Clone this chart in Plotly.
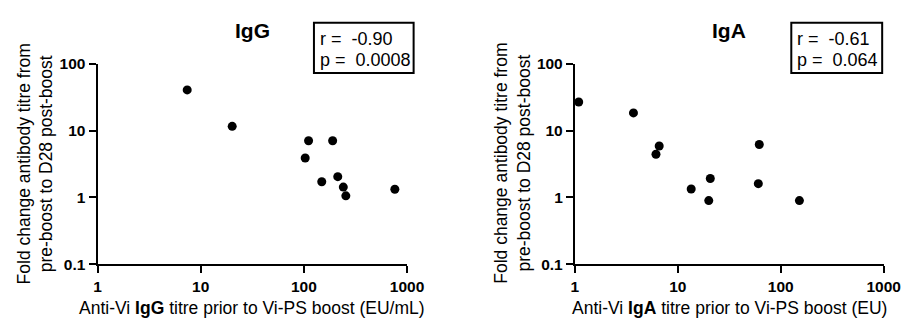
import plotly.graph_objects as go

# ---- data ----
igg_titre = [7.4, 20.2, 111, 190, 103, 149, 213, 241, 255, 761]
igg_fold = [40.6, 11.6, 7.06, 7.06, 3.89, 1.72, 2.05, 1.43, 1.06, 1.33]

iga_titre = [1.09, 3.71, 6.6, 6.14, 13.5, 20.7, 20.0, 61.9, 60.6, 152]
iga_fold = [26.8, 18.4, 5.88, 4.43, 1.34, 1.92, 0.90, 6.2, 1.61, 0.90]

x_tickvals = [1, 10, 100, 1000]
x_ticktext = ["1", "10", "100", "1000"]
y_tickvals = [0.1, 1, 10, 100]
y_ticktext = ["0.1", "1", "10", "100"]

panel_titles = ["IgG", "IgA"]
x_titles = ["Anti-Vi <b>IgG</b> titre prior to Vi-PS boost (EU/mL)",
            "Anti-Vi <b>IgA</b> titre prior to Vi-PS boost (EU)"]
y_title = "Fold change antibody titre from<br>pre-boost to D28 post-boost"
r_texts = ["r =\u00a0\u00a0-0.90", "r =\u00a0\u00a0-0.61"]
p_texts = ["p =\u00a0\u00a00.0008", "p =\u00a0\u00a00.064"]

# ---- layout geometry (window pixels; page body has an 8px margin) ----
W, H = 920, 326
OFF = 8
FONT = "Arial, Liberation Sans, sans-serif"
px = lambda v: (v - OFF) / W
py = lambda v: 1 - (v - OFF) / H

x_dom = [(95.5, 412.3), (584, 900)]
y_dom = (py(269), py(57.3))

fig = go.Figure()
fig.add_trace(go.Scatter(x=igg_titre, y=igg_fold, mode="markers",
                         marker=dict(size=9, color="black"),
                         xaxis="x", yaxis="y", cliponaxis=False, showlegend=False))
fig.add_trace(go.Scatter(x=iga_titre, y=iga_fold, mode="markers",
                         marker=dict(size=9, color="black"),
                         xaxis="x2", yaxis="y2", cliponaxis=False, showlegend=False))

axis_common = dict(type="log", showgrid=False, zeroline=False, showline=True,
                   linecolor="black", linewidth=2, ticks="outside", ticklen=7,
                   tickwidth=2, tickcolor="black",
                   tickfont=dict(family=FONT, size=15.5, color="black", weight="bold"))

layout = dict(width=W, height=H, margin=dict(l=0, r=0, t=0, b=0),
              paper_bgcolor="white", plot_bgcolor="white", showlegend=False)

for i in range(2):
    sx = "" if i == 0 else "2"
    layout["xaxis" + sx] = dict(axis_common, domain=[px(x_dom[i][0]), px(x_dom[i][1])],
                                range=[0, 3], tickvals=x_tickvals, ticktext=x_ticktext,
                                anchor="y" + sx)
    layout["yaxis" + sx] = dict(axis_common, domain=list(y_dom), range=[-1, 2],
                                tickvals=y_tickvals, ticktext=y_ticktext,
                                anchor="x" + sx)
fig.update_layout(**layout)

annotations = []
shapes = []
title_cx = [254, 742]
ytitle_cx = [31.5, 520]
box = [(317, 14, 419, 67), (805.5, 14, 898.5, 67)]
for i in range(2):
    annotations.append(dict(text="<b>" + panel_titles[i] + "</b>", x=px(title_cx[i]), y=py(22.5),
                            xref="paper", yref="paper", xanchor="center", yanchor="middle",
                            showarrow=False, font=dict(family=FONT, size=21, color="black")))
    annotations.append(dict(text=x_titles[i], x=px(title_cx[i]), y=py(315),
                            xref="paper", yref="paper", xanchor="center", yanchor="middle",
                            showarrow=False, font=dict(family=FONT, size=17.5, color="black")))
    annotations.append(dict(text=y_title, x=px(ytitle_cx[i]), y=py(162.5), textangle=-90,
                            xref="paper", yref="paper", xanchor="center", yanchor="middle",
                            showarrow=False, font=dict(family=FONT, size=17.5, color="black")))
    x0, y0, x1, y1 = box[i]
    shapes.append(dict(type="rect", xref="paper", yref="paper",
                       x0=px(x0), x1=px(x1), y0=py(y1), y1=py(y0),
                       line=dict(color="black", width=2), fillcolor="white"))
    annotations.append(dict(text=r_texts[i], x=px(x0 + 4), y=py(31.5),
                            xref="paper", yref="paper", xanchor="left", yanchor="middle",
                            showarrow=False, font=dict(family=FONT, size=18, color="black")))
    annotations.append(dict(text=p_texts[i], x=px(x0 + 4), y=py(53),
                            xref="paper", yref="paper", xanchor="left", yanchor="middle",
                            showarrow=False, font=dict(family=FONT, size=18, color="black")))

fig.update_layout(annotations=annotations, shapes=shapes)
fig.write_html("out.html")
